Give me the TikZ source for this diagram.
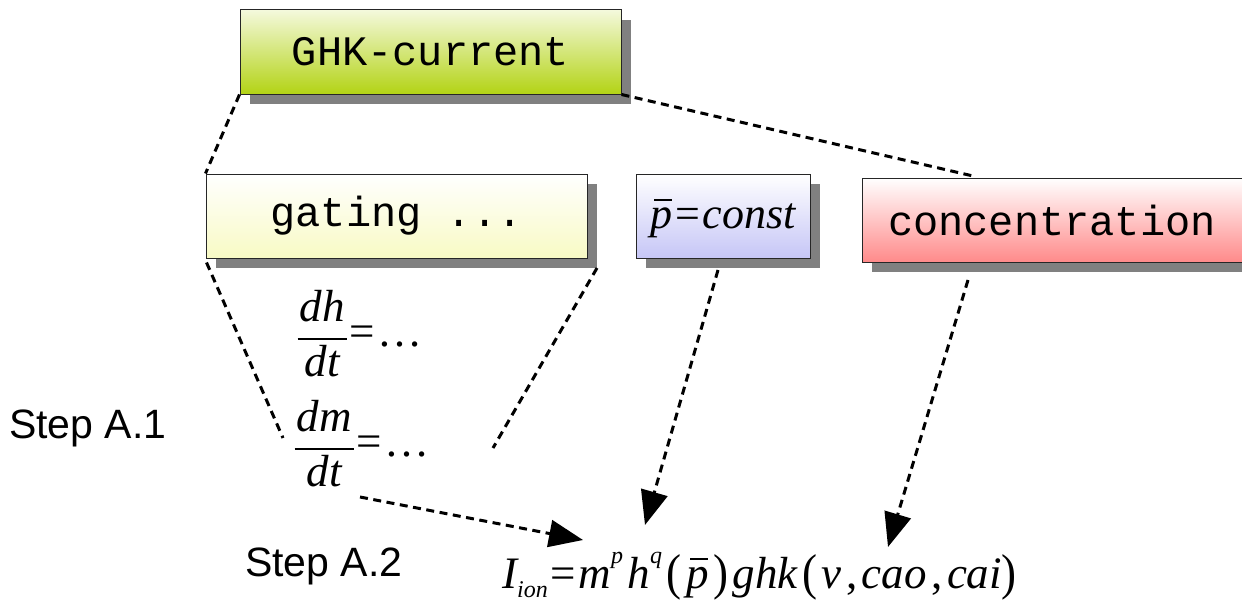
\documentclass[tikz,border=0pt]{standalone}
\usepackage{fontspec}
\setmainfont{Liberation Serif}
\setsansfont{Liberation Sans}
\setmonofont{Liberation Mono}
\usetikzlibrary{arrows.meta,shadows,calc}

% stacked fraction with a thick bar
\newcommand\myfrac[2]{{\setlength\arrayrulewidth{2.6pt}\begin{tabular}{@{\kern2pt}c@{\kern2pt}}#1\\[3pt]\hline\noalign{\vskip 5pt}#2\end{tabular}}}
% italic p with a bar above it
\newcommand\pbar{\ooalign{\itshape p\cr\hidewidth\kern0.08em\rule[0.62em]{0.4em}{0.05em}\hidewidth\cr}}
\newcommand\lowsub[1]{\raisebox{-0.22em}{\fontsize{24}{24}\selectfont\itshape #1}}
\newcommand\hisup[1]{\raisebox{0.55em}{\fontsize{24}{24}\selectfont\itshape #1}}
% slightly taller brackets
\newcommand\lpar{\raisebox{-0.04em}{\scalebox{1}[1.12]{(}}}
\newcommand\rpar{\raisebox{-0.04em}{\scalebox{1}[1.12]{)}}}
\newcommand\eqsign{\kern0.06em=\kern0.06em}
\newcommand\gap{\kern0.1em}

\definecolor{ghkbot}{HTML}{B3D315}
\definecolor{ghktop}{HTML}{F4F9DC}
\definecolor{gatbot}{HTML}{F8FAC4}
\definecolor{pbot}{HTML}{C6C6F6}
\definecolor{cbot}{HTML}{FF8A8A}

\tikzset{
  card/.style={draw=black!85, line width=1pt, inner sep=0pt, minimum height=84pt,
    font=\fontsize{42}{42}\selectfont\ttfamily,
    drop shadow={shadow xshift=10pt, shadow yshift=-10pt, fill=black!50, opacity=1}},
  link/.style={line width=3pt, dash pattern=on 8pt off 5.5pt},
  feed/.style={link, -{Triangle[length=34pt,width=27pt]}},
  steplabel/.style={font=\fontsize{41}{41}\selectfont\sffamily, anchor=west, inner sep=0pt},
  eqn/.style={font=\fontsize{45}{45}\selectfont, inner sep=0pt}
}

\begin{document}
\begin{tikzpicture}[x=1pt,y=-1pt]
\useasboundingbox (0,0) rectangle (1242,602);

% boxes
\node[card, minimum width=381pt, top color=ghktop, bottom color=ghkbot] (ghk) at (430.5,52) {GHK-current};
\node[card, minimum width=381pt, top color=white, bottom color=gatbot] (gating) at (396.5,216) {gating ...};
\node[card, minimum width=174pt, top color=white, bottom color=pbot,
      font=\fontsize{44}{44}\selectfont] (pconst) at (723,216) {\pbar\eqsign\itshape const};
\node[card, minimum width=380pt, top color=white, bottom color=cbot] (conc) at (1052,220) {concentration};

% gating equations
\node[eqn] (dhdt) at (360,340) {\myfrac{\itshape dh}{\itshape dt}\eqsign…};
\node[eqn] (dmdt) at (362,450) {\myfrac{\itshape dm}{\itshape dt}\eqsign…};

% current equation
\node[eqn, anchor=base west] (ion) at (502,588)
  {\itshape I\lowsub{ion}\upshape\eqsign\itshape m\hisup{p}\gap h\hisup{q}\gap\upshape\lpar\gap\pbar\gap\rpar\gap\itshape ghk\gap\upshape\lpar\gap\itshape v\gap\upshape,\gap\itshape cao\gap\upshape,\gap\itshape cai\upshape\rpar};

% step labels
\node[steplabel] (s1) at (9,428) {Step A.1};
\node[steplabel] (s2) at (245,566) {Step A.2};

% connector ends
\coordinate (concTop) at (973,176);
\coordinate (gL) at (283,438);
\coordinate (gR) at (493,448);
\coordinate (gRs) at (597,268);
\coordinate (pS) at (718,270);
\coordinate (pT) at (645,525);
\coordinate (cS) at (968,280);
\coordinate (cT) at (888,547);
\coordinate (mS) at (360,497);
\coordinate (mT) at (583,540);

% dotted links
\draw[link] (ghk.south west) -- (gating.north west);
\draw[link] (ghk.south east) -- (concTop);
\draw[link] ($(gating.south west)+(1,4)$) -- (gL);
\draw[link] (gRs) -- (gR);
\draw[feed] (pS) -- (pT);
\draw[feed] (cS) -- (cT);
\draw[feed] (mS) -- (mT);
\end{tikzpicture}
\end{document}
